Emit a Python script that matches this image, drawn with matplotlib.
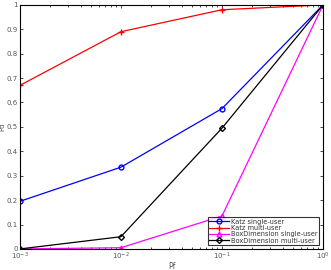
import numpy as np
import matplotlib.pyplot as plt

pf = [1e-3, 1e-2, 1e-1, 1e0]
katz_single = [0.195, 0.335, 0.575, 1.0]
katz_multi = [0.67, 0.89, 0.98, 1.0]
box_single = [0.0, 0.005, 0.135, 1.0]
box_multi = [0.0, 0.05, 0.495, 1.0]
labels = ["Katz single-user", "Katz multi-user",
          "BoxDimension single-user", "BoxDimension multi-user"]

fig = plt.figure(figsize=(3.31, 2.70), dpi=100)
ax = fig.add_axes([0.06, 0.078, 0.916, 0.904])

ax.plot(pf, katz_single, color='#0000ff', marker='o', ms=3.5, mfc='none', lw=0.9, label=labels[0])
ax.plot(pf, katz_multi, color='#ff0000', marker='+', ms=4.5, lw=0.9, label=labels[1])
ax.plot(pf, box_single, color='#ff00ff', marker='^', ms=3.5, mfc='none', lw=0.9, label=labels[2])
ax.plot(pf, box_multi, color='#000000', marker='D', ms=3, mfc='none', lw=0.9, label=labels[3])

ax.set_xscale('log')
ax.set_xlim(1e-3, 1)
ax.set_ylim(0, 1)
ax.set_yticks(np.arange(0, 1.01, 0.1))
ax.set_yticklabels(['0', '0.1', '0.2', '0.3', '0.4', '0.5', '0.6', '0.7', '0.8', '0.9', '1'])
ax.tick_params(which='both', direction='in', top=True, right=True, labelsize=5,
               labelcolor='#555555', length=2.5, width=0.5, pad=1.5)
ax.tick_params(which='minor', length=1.5)
for s in ax.spines.values():
    s.set_linewidth(0.8)

ax.set_xlabel('Pf', fontsize=5.5, color='#555555', labelpad=0)
ax.set_ylabel('Pd', fontsize=5, color='#555555', va='center')
ax.yaxis.set_label_coords(-0.057, 0.5)

leg = ax.legend(loc='lower right', fontsize=4.8, frameon=True, fancybox=False,
                borderpad=0.2, labelspacing=0.05, handlelength=3, handletextpad=0.3,
                borderaxespad=0.6, edgecolor='black')
leg.get_frame().set_linewidth(0.8)
for t in leg.get_texts():
    t.set_color('#333333')

fig.savefig('out.png', dpi=100)
